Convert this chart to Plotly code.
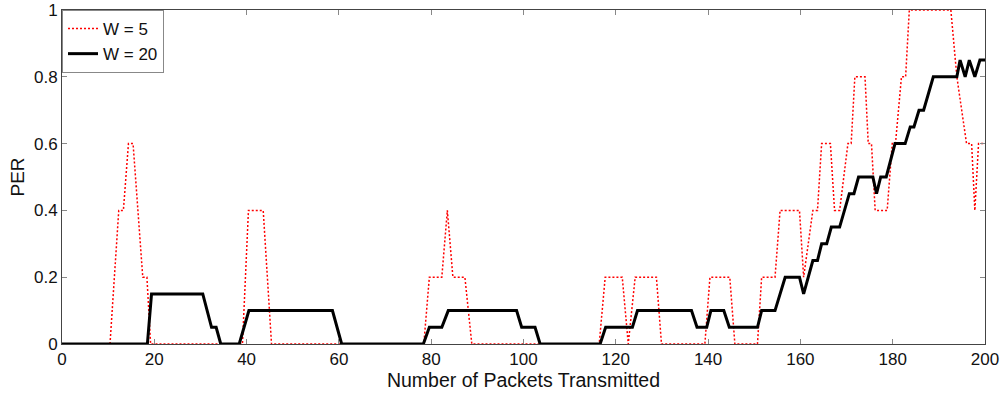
import plotly.graph_objects as go

# W = 5 series (breakpoints)
w5_x = [0, 10.4, 12.3, 13.3, 14.4, 15.4, 17.5, 18.4, 19.2, 39.1, 40.4, 43.6, 45.4,
        78.4, 79.6, 82.3, 83.5, 84.7, 87.3, 88.8, 116.4, 117.7, 121.4, 122.7, 124.2,
        128.8, 129.9, 139.3, 140.4, 144.7, 145.8, 150.7, 151.6, 154.5, 155.6, 159.8,
        160.7, 162.7, 163.7, 164.6, 166.5, 167.4, 168.5, 170.3, 171.0, 171.8, 174.0,
        174.7, 175.4, 176.2, 178.8, 179.9, 180.6, 181.9, 182.8, 183.6, 192.6, 193.9,
        196.0, 197.1, 197.8, 198.6, 200]
w5_y = [0, 0, 0.4, 0.4, 0.6, 0.6, 0.2, 0.2, 0, 0, 0.4, 0.4, 0,
        0, 0.2, 0.2, 0.4, 0.2, 0.2, 0, 0, 0.2, 0.2, 0, 0.2,
        0.2, 0, 0, 0.2, 0.2, 0, 0, 0.2, 0.2, 0.4, 0.4,
        0.2, 0.4, 0.4, 0.6, 0.6, 0.4, 0.4, 0.6, 0.6, 0.8, 0.8,
        0.6, 0.6, 0.4, 0.4, 0.6, 0.6, 0.8, 0.8, 1.0, 1.0, 0.8,
        0.6, 0.6, 0.4, 0.6, 0.6]

# W = 20 series
w20_x = [0, 18.5, 19.4, 30.5, 32.4, 33.4, 34.4, 38.4, 40.5, 58.6, 60.6, 78.3, 79.6,
         82.3, 83.7, 98.5, 99.6, 102.5, 103.6, 116.6, 117.8, 123.6, 124.7, 136.4,
         137.6, 139.7, 140.6, 143.4, 144.6, 150.7, 151.6, 154.5, 156.7, 159.8, 160.7,
         162.7, 163.7, 164.6, 165.7, 166.7, 168.5, 170.6, 171.6, 172.6, 175.7, 176.5,
         177.4, 178.6, 180.5, 182.7, 183.8, 184.6, 185.7, 186.7, 188.8, 193.9, 194.6,
         195.7, 196.6, 197.8, 198.9, 200]
w20_y = [0, 0, 0.15, 0.15, 0.05, 0.05, 0, 0, 0.1, 0.1, 0, 0, 0.05,
         0.05, 0.1, 0.1, 0.05, 0.05, 0, 0, 0.05, 0.05, 0.1, 0.1,
         0.05, 0.05, 0.1, 0.1, 0.05, 0.05, 0.1, 0.1, 0.2, 0.2, 0.15,
         0.25, 0.25, 0.3, 0.3, 0.35, 0.35, 0.45, 0.45, 0.5, 0.5, 0.45,
         0.5, 0.5, 0.6, 0.6, 0.65, 0.65, 0.7, 0.7, 0.8, 0.8, 0.85,
         0.8, 0.85, 0.8, 0.85, 0.85]

x_ticks = [0, 20, 40, 60, 80, 100, 120, 140, 160, 180, 200]
y_ticks = [0, 0.2, 0.4, 0.6, 0.8, 1]
y_tick_labels = ["0", "0.2", "0.4", "0.6", "0.8", "1"]

FONT = "Liberation Sans, Arial, sans-serif"

fig = go.Figure()
fig.add_trace(go.Scatter(x=w5_x, y=w5_y, mode="lines", name="W = 5",
                         line=dict(color="#ff0000", width=1.5, dash="2px,2px")))
fig.add_trace(go.Scatter(x=w20_x, y=w20_y, mode="lines", name="W = 20",
                         line=dict(color="#000000", width=3)))

axis_common = dict(showline=True, linecolor="#444444", linewidth=1, mirror="ticks",
                   ticks="inside", ticklen=5, tickcolor="#888888", tickwidth=1,
                   showgrid=False, zeroline=False, automargin=False,
                   tickfont=dict(family=FONT, size=17, color="#111111"))

fig.update_xaxes(range=[0, 200.0001], tickvals=x_ticks, **axis_common,
                 title=dict(text="Number of Packets Transmitted",
                            font=dict(family=FONT, size=19.5, color="#111111"),
                            standoff=4))
fig.update_yaxes(range=[0, 1.00001], tickvals=y_ticks, ticktext=y_tick_labels, **axis_common,
                 title=dict(text="PER",
                            font=dict(family=FONT, size=19, color="#111111"),
                            standoff=4))

fig.update_layout(
    width=1003, height=402,
    margin=dict(l=62, r=18, t=10, b=58),
    paper_bgcolor="white", plot_bgcolor="white",
    legend=dict(x=0, y=1, xanchor="left", yanchor="top",
                bgcolor="white", bordercolor="#888888", borderwidth=1,
                font=dict(family=FONT, size=17, color="#111111"),
                tracegroupgap=0, itemwidth=30),
    showlegend=True,
)

fig.write_html("out.html",
               config={"displayModeBar": False},
               post_script="document.body.style.margin='0';document.body.style.overflow='hidden';")
